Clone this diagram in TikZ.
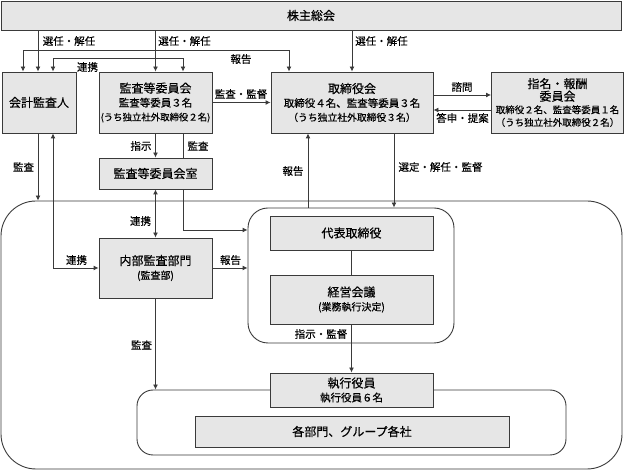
\documentclass[tikz,border=0pt]{standalone}
\usepackage{fontspec}
\setmainfont{Noto Sans CJK JP}[FakeBold=0.35]
\usetikzlibrary{positioning}
\usetikzlibrary{arrows.meta, backgrounds}

\definecolor{boxgray}{HTML}{E6E6E6}
\definecolor{linegray}{HTML}{3A3A3A}

\begin{document}
\begin{tikzpicture}[x=1pt,y=-1pt,
	box/.style={draw=linegray,fill=boxgray,line width=0.9pt,align=center,inner sep=0pt,
		font=\fontsize{10.5}{14}\selectfont},
	grp/.style={draw=linegray,line width=0.9pt,inner sep=0pt},
	lbl/.style={font=\fontsize{10.5}{12}\selectfont,inner sep=0pt},
	ln/.style={draw=linegray,line width=0.9pt},
	arr/.style={ln,-{Latex[length=5pt,width=5pt]}},
	arrtwo/.style={ln,{Latex[length=5pt,width=5pt]}-{Latex[length=5pt,width=5pt]}}]
	\useasboundingbox (0,0) rectangle (625,470);

	% groups
	\node[grp,minimum width=621,minimum height=268,rounded corners=35pt] (company) at (311.5,335) {};
	\node[grp,minimum width=206,minimum height=135,rounded corners=20pt] (execgrp) at (351,275.5) {};
	\node[grp,minimum width=429,minimum height=65,rounded corners=16pt] (deptgrp) at (351.5,422.5) {};

	% boxes
	\node[box,minimum width=620,minimum height=29] (soukai) at (311,15.5) {\fontsize{12}{14}\selectfont 株主総会};
	\node[box,minimum width=74,minimum height=61] (kaikei) at (39,102.5) {\fontsize{12}{14}\selectfont 会計監査人};
	\node[box,minimum width=113,minimum height=61] (kansa) at (155.5,102.5)
		{{\fontsize{12}{14}\selectfont 監査等委員会}\\監査等委員３名\\{\fontsize{9.4}{14}\selectfont (うち独立社外取締役２名)}};
	\node[box,minimum width=162,minimum height=61] (torishimari) at (352,102.5)
		{{\fontsize{12}{14}\selectfont 取締役会}\\取締役４名、監査等委員３名\\{\fontsize{9.8}{14}\selectfont （うち独立社外取締役３名）}};
	\node[box,minimum width=132,minimum height=61,font=\fontsize{9.5}{12.6}\selectfont] (shimei) at (557.5,102.5)
		{{\fontsize{12}{12.6}\selectfont 指名・報酬}\\{\fontsize{12}{12.6}\selectfont 委員会}\\取締役２名、監査等委員１名\\（うち独立社外取締役２名）};
	\node[box,minimum width=113,minimum height=31] (shitsu) at (155.5,173.5) {\fontsize{12}{14}\selectfont 監査等委員会室};
	\node[box,minimum width=113,minimum height=60] (naibu) at (155.5,268)
		{{\fontsize{12}{15}\selectfont 内部監査部門}\\{\fontsize{10}{15}\selectfont (監査部)}};
	\node[box,minimum width=163,minimum height=34] (daihyo) at (351.5,233) {\fontsize{12}{14}\selectfont 代表取締役};
	\node[box,minimum width=163,minimum height=49] (keiei) at (351.5,299.5)
		{{\fontsize{12}{14}\selectfont 経営会議}\\{\fontsize{10}{14}\selectfont (業務執行決定)}};
	\node[box,minimum width=163,minimum height=34] (shikko) at (351.5,390)
		{{\fontsize{12}{15.5}\selectfont 執行役員}\\{\fontsize{10.5}{15.5}\selectfont 執行役員６名}};
	\node[box,minimum width=314,minimum height=31] (bumon) at (352,431.5) {\fontsize{12}{14}\selectfont 各部門、グループ各社};

	% connectors
	\draw[arr] (soukai.south -| 38,0) -- (kaikei.north -| 38,0);
	\draw[arr] (soukai.south -| kansa.north) -- (kansa.north);
	\draw[arr] (soukai.south -| torishimari.north) -- (torishimari.north);
	\draw[arrtwo] (kaikei.north -| 23,0) |- (289,50) -- (torishimari.north -| 289,0);
	\draw[arrtwo] (kaikei.north -| 53,0) |- (183,58) -- (kansa.north -| 183,0);
	\draw[arr] (kansa.east) -- (torishimari.west);
	\draw[arr] (torishimari.east |- 0,95) -- (shimei.west |- 0,95);
	\draw[arr] (shimei.west |- 0,110) -- (torishimari.east |- 0,110);
	\draw[arr] (kaikei.south -| 38,0) -- (company.north -| 38,0);
	\draw[arrtwo] (kaikei.south -| 53,0) |- (naibu.west);
	\draw[arr] (kansa.south) -- (shitsu.north);
	\begin{scope}[on background layer]
		\draw[arr] (kansa.south -| 183,0) |- (execgrp.west |- 0,230);
	\end{scope}
	\draw[arrtwo] (shitsu.south) -- (naibu.north);
	\draw[arr] (naibu.east) -- (naibu.east -| execgrp.west);
	\draw[arr] (execgrp.north -| 308,0) -- (torishimari.south -| 308,0);
	\draw[arr] (torishimari.south -| 394,0) -- (execgrp.north -| 394,0);
	\draw[ln] (daihyo) -- (keiei);
	\draw[arr] (keiei.south) -- (shikko.north);
	\draw[arr] (naibu.south) -- (deptgrp.north -| naibu.south);

	% labels
	\node[lbl] (senin1) at (69,41) {選任・解任};
	\node[lbl] (senin2) at (184.5,41) {選任・解任};
	\node[lbl] (senin3) at (381.5,41) {選任・解任};
	\node[lbl] (houkoku1) at (241,59) {報告};
	\node[lbl] (renkei1) at (87.5,67) {連携};
	\node[lbl] (kantoku1) at (241,94) {監査・監督};
	\node[lbl] (shimon) at (462,87) {諮問};
	\node[lbl] (toshin) at (462.5,118) {答申・提案};
	\node[lbl] (kansa1) at (23.5,167) {監査};
	\node[lbl] (renkei2) at (76.5,260) {連携};
	\node[lbl] (shiji1) at (141,146) {指示};
	\node[lbl] (kansa2) at (198,146) {監査};
	\node[lbl] (renkei3) at (140.5,221) {連携};
	\node[lbl] (houkoku2) at (230.5,260) {報告};
	\node[lbl] (houkoku3) at (293,171) {報告};
	\node[lbl] (sentei) at (440.5,167) {選定・解任・監督};
	\node[lbl] (shiji2) at (321,334) {指示・監督};
	\node[lbl] (kansa3) at (141.5,345) {監査};
\end{tikzpicture}
\end{document}
